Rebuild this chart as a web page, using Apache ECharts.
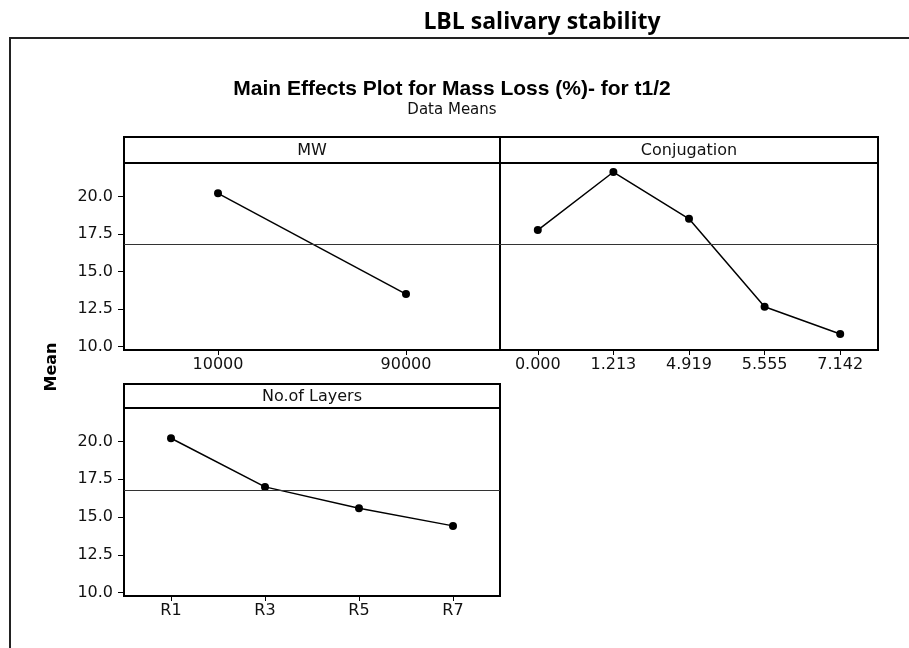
<!DOCTYPE html>
<html>
<head>
<meta charset="utf-8">
<title>Main Effects Plot for Mass Loss</title>
<script src="https://cdn.jsdelivr.net/npm/echarts@6/dist/echarts.min.js"></script>
<style>
  html, body { margin: 0; padding: 0; background: #fff; }
  #chart { width: 909px; height: 648px; }
</style>
</head>
<body>
<div id="chart"></div>
<script>
// Factor levels and their data means
const mwLevels = ['10000', '90000'];
const mwMeans = [20.2, 13.5];

const conjLevels = ['0.000', '1.213', '4.919', '5.555', '7.142'];
const conjMeans = [17.76, 21.62, 18.51, 12.66, 10.84];

const layerLevels = ['R1', 'R3', 'R5', 'R7'];
const layerMeans = [20.22, 17.0, 15.58, 14.42];

// Overall mean drawn as the reference line in every panel
const grandMean = 16.8;

// Mean axis tick labels
const meanTicks = [10, 12.5, 15, 17.5, 20];

const panelTitles = ['MW', 'Conjugation', 'No.of Layers'];

const FONT = 'DejaVu Sans';
const chart = echarts.init(document.getElementById('chart'));

const grids = [
  { left: 124, top: 163, width: 376, height: 187 },
  { left: 500, top: 163, width: 378, height: 187 },
  { left: 124, top: 408, width: 376, height: 188 }
];

function xAxisFor(idx, levels) {
  return {
    type: 'category', gridIndex: idx, data: levels, boundaryGap: true,
    axisLine: { show: true, lineStyle: { color: '#000', width: 2 } },
    axisTick: { show: true, alignWithLabel: true, length: 5, lineStyle: { color: '#000', width: 1 } },
    axisLabel: { color: '#111', fontFamily: FONT, fontSize: 16, margin: 7 },
    splitLine: { show: false }
  };
}

function yAxisFor(idx, showLabels) {
  return {
    type: 'value', gridIndex: idx, min: 9.78, max: 22.22,
    axisLine: { show: true, lineStyle: { color: '#000', width: 2 } },
    axisTick: { show: showLabels, length: 6, lineStyle: { color: '#000', width: 1 }, customValues: meanTicks },
    axisLabel: {
      show: showLabels, color: '#111', fontFamily: FONT, fontSize: 16, margin: 11,
      customValues: meanTicks,
      formatter: v => Number(v).toFixed(1)
    },
    splitLine: { show: false }
  };
}

function effectSeries(idx, values) {
  return {
    type: 'line', xAxisIndex: idx, yAxisIndex: idx, data: values,
    symbol: 'circle', symbolSize: 8,
    itemStyle: { color: '#000' },
    lineStyle: { color: '#000', width: 1.5 },
    markLine: {
      silent: true, symbol: 'none',
      label: { show: false },
      lineStyle: { color: '#333', width: 1, type: 'solid' },
      data: [{ yAxis: grandMean }]
    },
    animation: false
  };
}

// Header strip above each panel
function header(g, h, text) {
  return [
    {
      type: 'rect',
      shape: { x: g.left, y: g.top - h, width: g.width, height: h },
      style: { fill: 'none', stroke: '#000', lineWidth: 2 }
    },
    {
      type: 'text',
      style: {
        text: text, x: g.left + g.width / 2, y: g.top - h / 2 + 1,
        align: 'center', verticalAlign: 'middle',
        font: '16px "' + FONT + '"', fill: '#111'
      }
    }
  ];
}

const graphics = [].concat(
  // outer frame
  [{
    type: 'polyline',
    shape: { points: [[10, 648], [10, 38], [909, 38]] },
    style: { fill: 'none', stroke: '#222', lineWidth: 2 }
  },
  {
    type: 'text',
    style: {
      text: 'LBL salivary stability', x: 542, y: 22,
      align: 'center', verticalAlign: 'middle',
      font: 'bold 23px "Open Sans"', fill: '#000'
    }
  },
  {
    type: 'text',
    style: {
      text: 'Main Effects Plot for Mass Loss (%)- for t1/2', x: 452, y: 89,
      align: 'center', verticalAlign: 'middle',
      font: 'bold 21px "Liberation Sans"', fill: '#000'
    }
  },
  {
    type: 'text',
    style: {
      text: 'Data Means', x: 452, y: 110,
      align: 'center', verticalAlign: 'middle',
      font: '15px "' + FONT + '"', fill: '#111'
    }
  },
  {
    type: 'text',
    rotation: Math.PI / 2,
    x: 52, y: 367,
    style: {
      text: 'Mean', x: 0, y: 0,
      align: 'center', verticalAlign: 'middle',
      font: 'bold 16px "' + FONT + '"', fill: '#000'
    }
  }],
  header(grids[0], 26, panelTitles[0]),
  header(grids[1], 26, panelTitles[1]),
  header(grids[2], 24, panelTitles[2])
);

chart.setOption({
  backgroundColor: '#fff',
  animation: false,
  grid: grids.map(g => Object.assign({ show: true, borderColor: '#000', borderWidth: 2, backgroundColor: 'transparent' }, g)),
  xAxis: [xAxisFor(0, mwLevels), xAxisFor(1, conjLevels), xAxisFor(2, layerLevels)],
  yAxis: [yAxisFor(0, true), yAxisFor(1, false), yAxisFor(2, true)],
  series: [effectSeries(0, mwMeans), effectSeries(1, conjMeans), effectSeries(2, layerMeans)],
  graphic: graphics
});
</script>
</body>
</html>
